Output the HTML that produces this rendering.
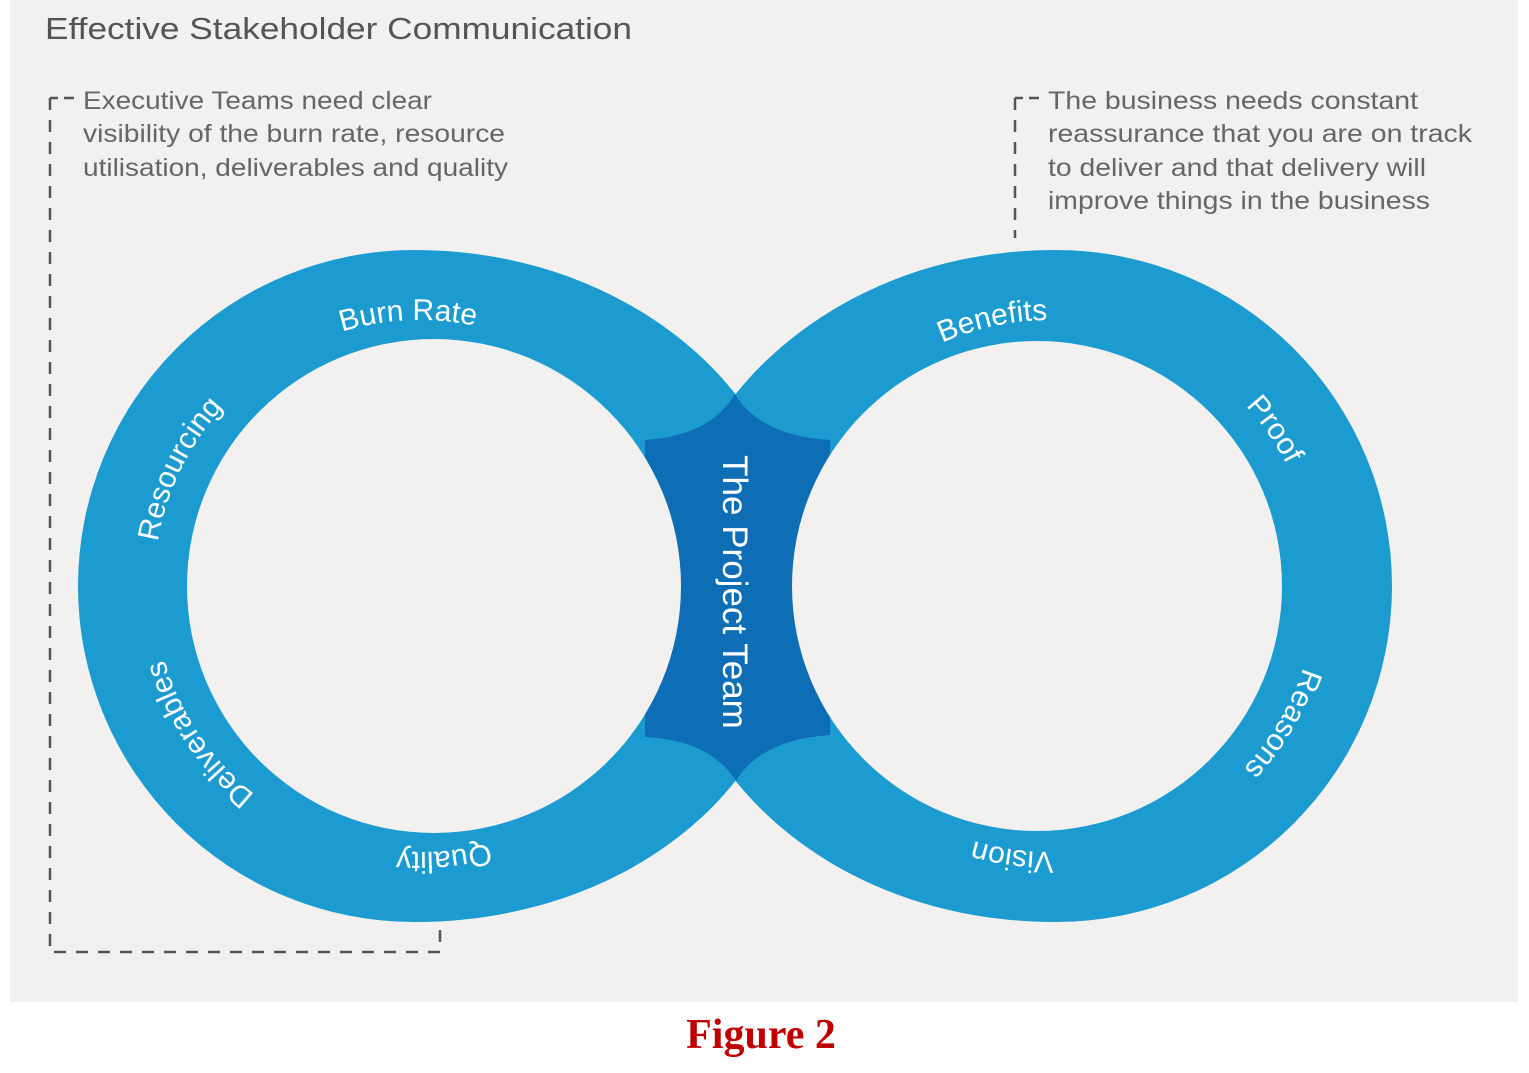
<!DOCTYPE html>
<html><head><meta charset="utf-8"><style>
html,body{margin:0;padding:0;background:#fff;}
svg{display:block;}
</style></head><body>
<svg width="1529" height="1073" viewBox="0 0 1529 1073" xmlns="http://www.w3.org/2000/svg">
<rect x="10" y="0" width="1508" height="1002" fill="#f2f1ef"/>
<text x="45" y="39" font-family="Liberation Sans, sans-serif" font-size="31" fill="#555" textLength="587" lengthAdjust="spacingAndGlyphs">Effective Stakeholder Communication</text>
<g font-family="Liberation Sans, sans-serif" font-size="25" fill="#666" lengthAdjust="spacingAndGlyphs">
<text x="83" y="109" textLength="349" lengthAdjust="spacingAndGlyphs">Executive Teams need clear</text>
<text x="83" y="142" textLength="422" lengthAdjust="spacingAndGlyphs">visibility of the burn rate, resource</text>
<text x="83" y="176" textLength="425" lengthAdjust="spacingAndGlyphs">utilisation, deliverables and quality</text>
<text x="1048" y="109" textLength="370" lengthAdjust="spacingAndGlyphs">The business needs constant</text>
<text x="1048" y="142" textLength="424" lengthAdjust="spacingAndGlyphs">reassurance that you are on track</text>
<text x="1048" y="176" textLength="378" lengthAdjust="spacingAndGlyphs">to deliver and that delivery will</text>
<text x="1048" y="209" textLength="382" lengthAdjust="spacingAndGlyphs">improve things in the business</text>
</g>
<g stroke="#555" stroke-width="2.5" fill="none" stroke-dasharray="12,10">
<path d="M50,98 L50,952 L440,952 L440,928"/>
<path d="M1015,98 L1015,238"/>
</g>
<g stroke="#555" stroke-width="2.5" fill="none">
<path d="M50,98 L58,98 M64,98 L74,98"/>
<path d="M1015,98 L1023,98 M1029,98 L1039,98"/>
</g>
<path d="M414,250 C565,250 680,320 740,400 L740,775 C680,855 565,922 414,922 A336 336 0 0 1 414,250 Z" fill="#1b9bd0"/>
<path d="M1056,250 C905,250 792,320 731,400 L731,775 C792,855 905,922 1056,922 A336 336 0 0 0 1056,250 Z" fill="#1b9bd0"/>
<path d="M735,394 Q760,436 830,440 L830,735 Q760,740 736,781 Q710,740 645,737 L645,440 Q710,436 735,394 Z" fill="#0d6db5"/>
<circle cx="434" cy="586" r="247" fill="#f2f1ef"/>
<circle cx="1037" cy="586" r="245" fill="#f2f1ef"/>
<defs>
<path id="cL" d="M154,586 A266 266 0 1 1 686,586 A266 266 0 1 1 154,586"/>
<path id="cR" d="M784,586 A266 266 0 1 1 1316,586 A266 266 0 1 1 784,586"/>
</defs>
<g font-family="Liberation Sans, sans-serif" font-size="30" fill="#fff" text-anchor="middle">
<text><textPath href="#cL" startOffset="24.3%">Burn Rate</textPath></text>
<text><textPath href="#cL" startOffset="7.2%">Resourcing</textPath></text>
<text><textPath href="#cL" startOffset="90.6%">Deliverables</textPath></text>
<text><textPath href="#cL" startOffset="73.6%">Quality</textPath></text>
<text><textPath href="#cR" startOffset="21.6%">Benefits</textPath></text>
<text><textPath href="#cR" startOffset="40.3%">Proof</textPath></text>
<text><textPath href="#cR" startOffset="58.5%">Reasons</textPath></text>
<text><textPath href="#cR" startOffset="77.2%">Vision</textPath></text>
</g>
<text transform="translate(723,592) rotate(90)" font-family="Liberation Sans, sans-serif" font-size="35" fill="#fff" text-anchor="middle">The Project Team</text>
<text x="761" y="1048" font-family="Liberation Serif, serif" font-size="42" font-weight="bold" fill="#c00000" text-anchor="middle">Figure 2</text>
</svg>
</body></html>
